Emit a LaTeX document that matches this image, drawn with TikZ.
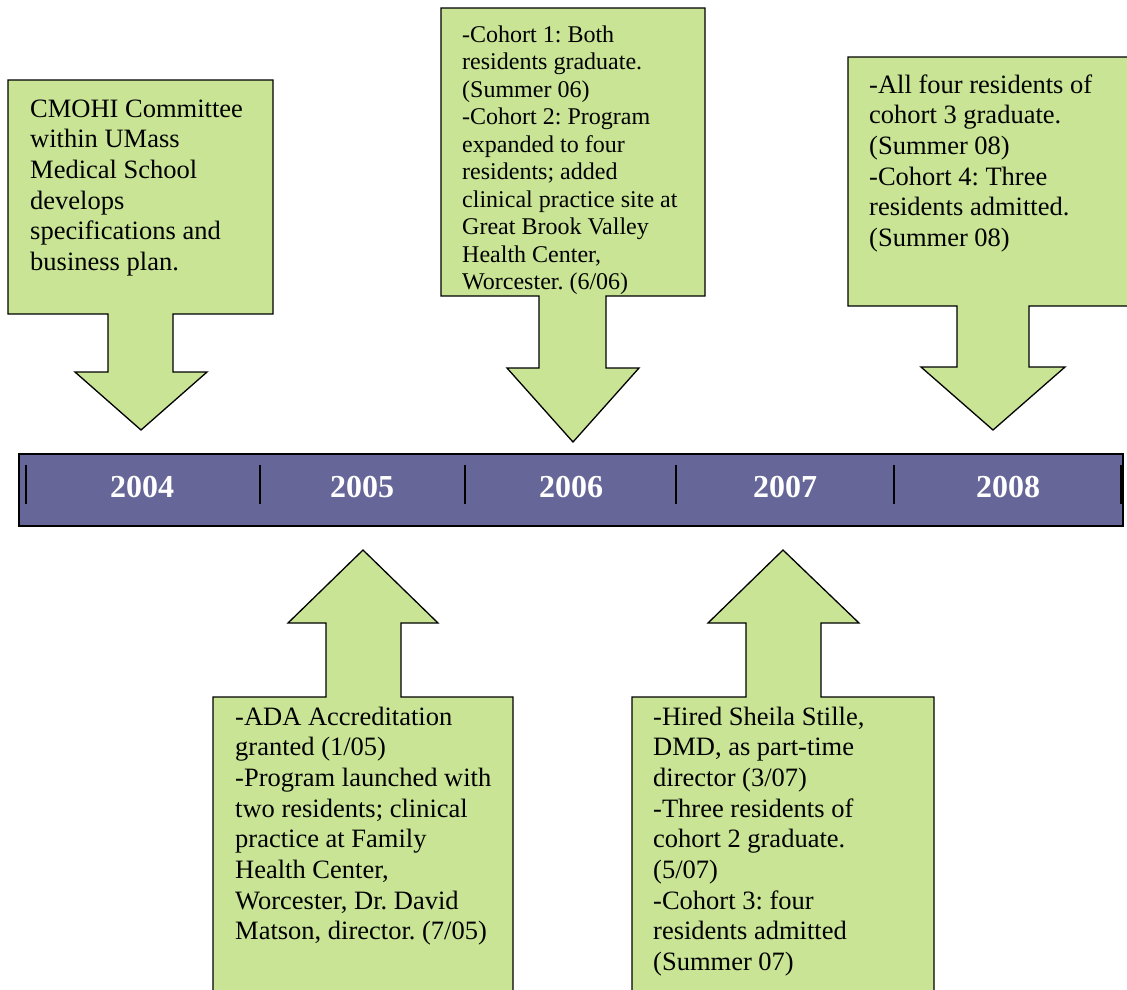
\documentclass[tikz,border=0pt]{standalone}
\usepackage{fontspec}
\setmainfont{Liberation Serif}
\frenchspacing
\definecolor{callgreen}{RGB}{200,228,148}
\definecolor{barblue}{RGB}{102,102,153}
\newcommand{\calltext}[1]{\begin{tabular}[t]{@{}l@{}}#1\end{tabular}}
\begin{document}
\begin{tikzpicture}[x=1pt,y=-1pt,
  callout/.style={fill=callgreen,draw=black,line width=1.3pt,line join=miter},
  bigtext/.style={anchor=base west,inner sep=0pt,font=\fontsize{26.5}{30.7}\selectfont},
  smalltext/.style={anchor=base west,inner sep=0pt,font=\fontsize{24}{27.55}\selectfont},
  year/.style={font=\fontsize{32}{38}\selectfont\bfseries,text=white,anchor=base,inner sep=0pt},
  yeartick/.style={line width=2pt}]
\useasboundingbox (0,0) rectangle (1127,989);
\clip (0,0) rectangle (1127,989);

% timeline bar
\draw[fill=barblue,draw=black,line width=1.5pt] (19,454) rectangle (1123,526);
\foreach \x in {26,260,465,676,894,1121}
  \draw[yeartick] (\x,465) -- (\x,504);
\node[year] (y2004) at (142,497) {2004};
\node[year] (y2005) at (362,497) {2005};
\node[year] (y2006) at (571,497) {2006};
\node[year] (y2007) at (785,497) {2007};
\node[year] (y2008) at (1008,497) {2008};

% down callouts
\draw[callout] (8,80) -- (273,80) -- (273,314) -- (173,314) -- (173,372) -- (207,372)
  -- (141,430) -- (75,372) -- (108,372) -- (108,314) -- (8,314) -- cycle;
\draw[callout] (441,8) -- (705,8) -- (705,296) -- (606,296) -- (606,368) -- (639,368)
  -- (573,442) -- (507,368) -- (539,368) -- (539,296) -- (441,296) -- cycle;
\draw[callout] (848,57) -- (1140,57) -- (1140,306) -- (1029,306) -- (1029,367) -- (1065,367)
  -- (993,430) -- (921,367) -- (957,367) -- (957,306) -- (848,306) -- cycle;

% up callouts
\draw[callout] (363,550) -- (438,623) -- (401,623) -- (401,697) -- (513,697) -- (513,1000)
  -- (213,1000) -- (213,697) -- (326,697) -- (326,623) -- (288,623) -- cycle;
\draw[callout] (783,550) -- (859,623) -- (821,623) -- (821,697) -- (934,697) -- (934,1000)
  -- (632,1000) -- (632,697) -- (746,697) -- (746,623) -- (708,623) -- cycle;

% texts
\node[bigtext] (t2004) at (30,117) {\calltext{CMOHI Committee\\within UMass\\Medical School\\develops\\specifications and\\business plan.}};
\node[smalltext] (t2006) at (462,42) {\calltext{-Cohort 1: Both\\residents graduate.\\(Summer 06)\\-Cohort 2: Program\\expanded to four\\residents; added\\clinical practice site at\\Great Brook Valley\\Health Center,\\Worcester. (6/06)}};
\node[bigtext] (t2008) at (869,93) {\calltext{-All four residents of\\cohort 3 graduate.\\(Summer 08)\\-Cohort 4: Three\\residents admitted.\\(Summer 08)}};
\node[bigtext] (t2005) at (235,725) {\calltext{-ADA Accreditation\\granted (1/05)\\-Program launched with\\two residents; clinical\\practice at Family\\Health Center,\\Worcester, Dr. David\\Matson, director. (7/05)}};
\node[bigtext] (t2007) at (653,725) {\calltext{-Hired Sheila Stille,\\DMD, as part-time\\director (3/07)\\-Three residents of\\cohort 2 graduate.\\(5/07)\\-Cohort 3: four\\residents admitted\\(Summer 07)}};
\end{tikzpicture}
\end{document}
